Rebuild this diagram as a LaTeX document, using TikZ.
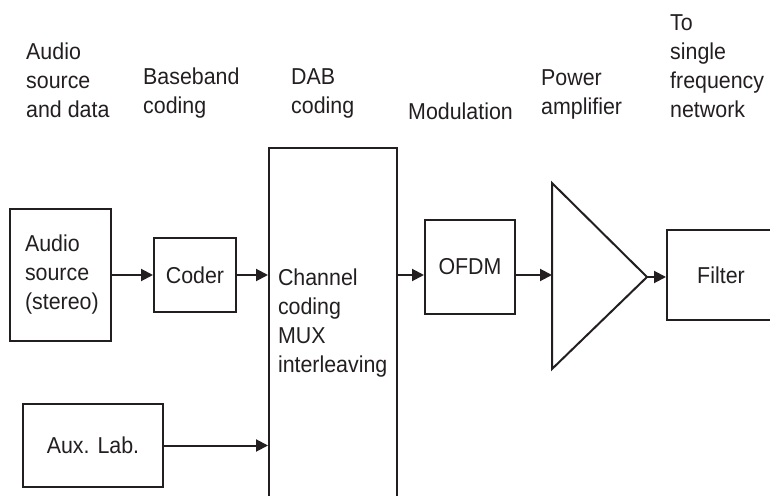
\documentclass[tikz,border=0pt]{standalone}
\usepackage{fontspec}
\setmainfont[FakeStretch=0.93]{Liberation Sans}
\usetikzlibrary{arrows.meta}
\definecolor{ink}{RGB}{35,31,32}
\begin{document}
\begin{tikzpicture}[x=1pt,y=1pt,
  every node/.style={font=\fontsize{23}{29}\selectfont, text=ink},
  blk/.style={draw=ink, line width=2pt, inner sep=0pt, align=center},
  lbl/.style={inner sep=0pt, anchor=base west, align=left},
  sig/.style={draw=ink, line width=2pt, -{Triangle[length=12pt,width=12pt]}}]
\useasboundingbox (0,0) rectangle (770,495);
\clip (0,0) rectangle (770,495);
% top labels (anchored at the baseline of the last line)
\node[lbl] (l1) at (26,377) {Audio\\source\\and data};
\node[lbl] (l2) at (143,381) {Baseband\\coding};
\node[lbl] (l3) at (291,381) {DAB\\coding};
\node[lbl] (l4) at (408,375) {Modulation};
\node[lbl] (l5) at (541,380) {Power\\amplifier};
\node[lbl] (l6) at (670,377) {To\\single\\frequency\\network};
% blocks
\node[blk, minimum width=101pt, minimum height=132pt, text width=71pt, inner xsep=15pt, align=left] (audio) at (60.5,220) {Audio\\source\\(stereo)};
\node[blk, minimum width=82pt, minimum height=74pt] (coder) at (195,220) {Coder};
\node[blk, minimum width=128pt, minimum height=350pt, text width=110pt, inner xsep=9pt, align=left] (chan) at (333,172) {Channel\\coding\\MUX\\interleaving};
\node[blk, minimum width=90pt, minimum height=94pt] (ofdm) at (470,228) {OFDM};
\node[blk, minimum width=108pt, minimum height=90pt] (filter) at (721,220) {Filter};
\node[blk, minimum width=140pt, minimum height=83pt] (aux) at (93,49.5) {Aux. Lab.};
% amplifier
\coordinate (ampT) at (552,312);
\coordinate (ampB) at (552,126);
\coordinate (ampO) at (647,218);
\coordinate (ampI) at (552,220);
\draw[ink, line width=2pt, line join=miter] (ampT) -- (ampO) -- (ampB) -- cycle;
% connectors
\draw[sig] (audio.east |- coder) -- (coder.west);
\draw[sig] (coder.east) -- (coder.east -| chan.west);
\draw[sig] (aux.east) -- (aux.east -| chan.west);
\draw[sig] (chan.east |- coder) -- (ofdm.west |- coder);
\draw[sig] (ofdm.east |- coder) -- (ampI);
\draw[sig] (ampO) -- (ampO -| filter.west);
\end{tikzpicture}
\end{document}
